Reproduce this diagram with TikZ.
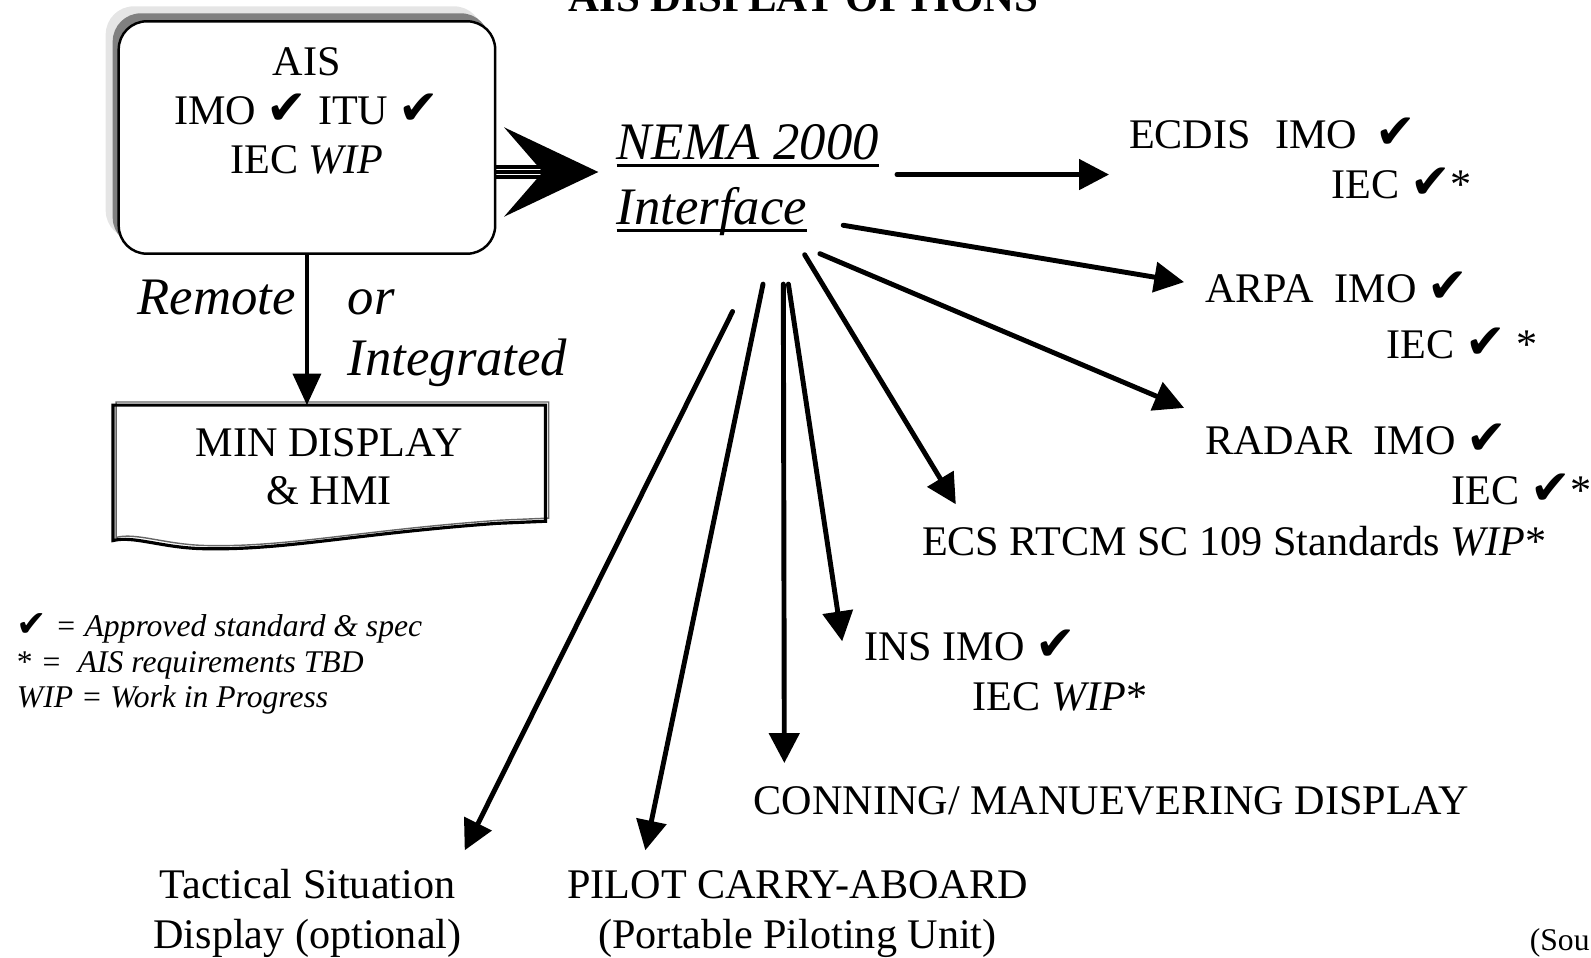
\documentclass[tikz,border=0pt]{standalone}
\usepackage{fontspec}
\usepackage{graphicx}
\setmainfont{Liberation Serif}
\newfontfamily\chkfont{DejaVu Sans}
\newcommand{\chk}{{\upshape\chkfont\scalebox{1.15}{\symbol{"2714}}}}
\newcommand{\thickul}[1]{\setbox0\hbox{#1}\rlap{\rule[-2.2pt]{\wd0}{0.9pt}}\box0}
\usetikzlibrary{arrows.meta,calc,shadows}

\begin{document}
\begin{tikzpicture}[x=0.10147mm, y=-0.10147mm,
  lbl/.style={inner sep=0pt, font=\fontsize{12}{14.2}\selectfont, align=left},
  ctr/.style={lbl, align=center},
  slant/.style={inner sep=0pt, align=left, font=\fontsize{15}{17.3}\selectfont\itshape},
  conn/.style={line width=1.4pt, line cap=round, -{Triangle[length=8.5pt,width=8.5pt]}},
  downarrow/.style={line width=1pt, -{Triangle[length=9pt,width=8pt]}},
  fatarrow/.style={line width=0.9pt, -{Stealth[length=26.8pt,width=25.4pt,inset=11pt]}},
  shaft/.style={line width=0.9pt},
  aisbox/.style={draw, line width=0.7pt, fill=white, rounded corners=8pt,
    minimum width=37.65mm, minimum height=23.24mm,
    copy shadow={shadow xshift=-1.3mm, shadow yshift=1.5mm, fill=black!10, draw=none},
    copy shadow={shadow xshift=-0.6mm, shadow yshift=0.8mm, fill=black!50, draw=none}},
  minbox/.style={ctr, font=\fontsize{12}{13.6}\selectfont, minimum width=43.12mm, minimum height=12.18mm},
  mindoc/.style={line width=0.9pt,
    copy shadow={shadow xshift=0.9pt, shadow yshift=0.9pt, draw=black!60, fill=none}}]
\useasboundingbox (0,0) rectangle (1568,944);

\node[font=\fontsize{12.2}{14}\selectfont\bfseries, inner sep=0pt, anchor=base] (title) at (792,11) {AIS DISPLAY OPTIONS};

\node[aisbox] (ais) at (302.5,135.5) {};
\node[ctr, font=\fontsize{12}{13.9}\selectfont] (aistxt) at ($(ais.center)+(0,-26)$) {AIS\\IMO \chk{} ITU \chk\\IEC \textit{WIP}};

\node[slant, anchor=base west, font=\fontsize{15}{18.5}\selectfont\itshape] (nema) at (607,221) {\thickul{NEMA 2000}\\\thickul{Interface}};

\coordinate (aisout) at ($(ais.east)+(0,34)$);
\draw[shaft] ($(aisout)+(0,-5)$) -- +(50,0);
\draw[shaft] ($(aisout)+(0,5)$) -- +(50,0);
\draw[fatarrow, shorten >=5pt] (aisout) -- (aisout -| nema.west);

\node[slant, anchor=base west] (remote) at (135,310) {Remote};
\node[slant, anchor=base west] (orint) at (342,370) {or\\Integrated};

\node[minbox] (min) at (324.5,460) {MIN DISPLAY\\\& HMI};
\draw[mindoc] (min.north west) -- (min.north east) -- ($(min.south east)+(0,-7)$) -- ++(-47,2)
  .. controls +(-140,10) and +(80,2) .. ($(min.south west)+(88,20)$)
  .. controls +(-40,-1) and +(20,-5) .. ($(min.south west)+(0,12)$) -- cycle;
\draw[downarrow] (ais.south) -- (ais.south |- min.north);

\node[inner sep=0pt, anchor=base west, align=left, font=\fontsize{9}{10}\selectfont\itshape] (legend) at (16,697)
  {\chk{} = Approved standard \& spec\\{\upshape *} =\ \ AIS requirements TBD\\WIP = Work in Progress};

\node[lbl, anchor=base west] (ecdis) at (1112,196) {ECDIS\hspace{7pt}IMO\hspace{5pt}\chk\\\hspace*{57.7pt}IEC \chk*};
\node[lbl, anchor=base west, font=\fontsize{12}{15.9}\selectfont] (arpa) at (1187,353) {ARPA\hspace{6pt}IMO \chk\\\hspace*{51.7pt}IEC {\large\chk} *};
\node[lbl, anchor=base west] (radar) at (1187,497) {RADAR\hspace{6pt}IMO \chk\\\hspace*{70.2pt}IEC \chk*};
\node[lbl, anchor=base west] (ecs) at (908,547) {ECS RTCM SC 109 Standards \textit{WIP}*};
\node[lbl, anchor=base west] (ins) at (851,700) {INS IMO \chk\\\hspace*{30.9pt}IEC \textit{WIP}*};
\node[lbl, anchor=base west] (conning) at (742,803) {CONNING/ MANUEVERING DISPLAY};
\node[ctr, anchor=base] (pilot) at (786,935) {PILOT CARRY-ABOARD\\(Portable Piloting Unit)};
\node[ctr, anchor=base] (tactical) at (303,935) {Tactical Situation\\Display (optional)};
\node[inner sep=0pt, anchor=base west, font=\fontsize{9}{11}\selectfont] (src) at (1507,937) {(Sou};

\coordinate (n1) at (884,172);
\coordinate (n2) at (831,222);
\coordinate (n3) at (808,250);
\coordinate (n4) at (793,251);
\coordinate (n5) at (777,280);
\coordinate (n6) at (772,280);
\coordinate (n7) at (752,280);
\coordinate (n8) at (722,307);

\draw[conn] (n1) -- ($(ecdis.base west)+(-19,-24)$);
\draw[conn] (n2) -- ($(arpa.base west)+(-20,-75)$);
\draw[conn] (n3) -- ($(radar.base west)+(-20,-95)$);
\draw[conn] (n4) -- ($(ecs.base west)+(34,-50)$);
\draw[conn] (n5) -- ($(ins.base west)+(-21,-68)$);
\draw[conn] (n6) -- ($(conning.base west)+(31,-51)$);
\draw[conn] (n7) -- ($(pilot.base)+(-150,-97)$);
\draw[conn] (n8) -- ($(tactical.base)+(155,-97)$);

\end{tikzpicture}
\end{document}
